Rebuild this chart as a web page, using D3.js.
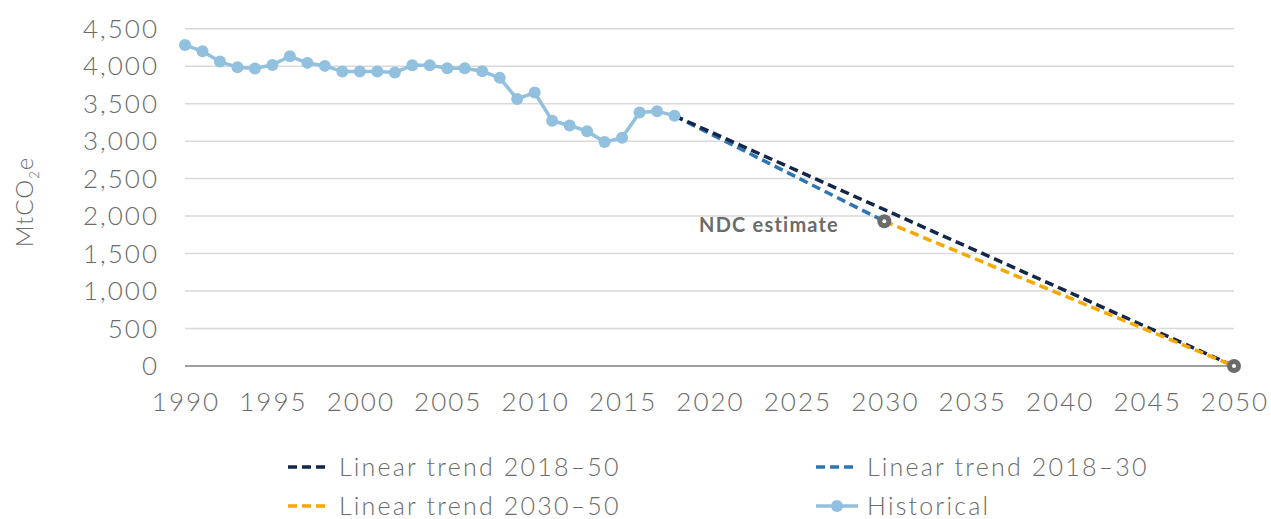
<!DOCTYPE html>
<html>
<head>
<meta charset="utf-8">
<script src="https://cdn.jsdelivr.net/npm/d3@7"></script>
<style>
  body { margin: 0; background: #fff; }
  svg text { font-family: Lato, "Open Sans", sans-serif; font-weight: 300; fill: #6b6b6b; }
</style>
</head>
<body>
<svg id="chart" width="1271" height="519"></svg>
<script>
// Historical emissions, MtCO2e
const years = [1990, 1991, 1992, 1993, 1994, 1995, 1996, 1997, 1998, 1999,
  2000, 2001, 2002, 2003, 2004, 2005, 2006, 2007, 2008, 2009,
  2010, 2011, 2012, 2013, 2014, 2015, 2016, 2017, 2018];
const historical = [4284, 4198, 4061, 3985, 3968, 4017, 4132, 4044, 4004, 3928,
  3928, 3928, 3915, 4012, 4012, 3972, 3972, 3932, 3844, 3562,
  3648, 3272, 3209, 3133, 2987, 3045, 3382, 3400, 3338];

// Trend end points [year, value]
const trend2018_50 = [[2018, 3338], [2050, 0]];
const trend2018_30 = [[2018, 3338], [2030, 1931]];
const trend2030_50 = [[2030, 1931], [2050, 0]];
const ndcPoints = [[2030, 1931], [2050, 0]];

const yTicks = [0, 500, 1000, 1500, 2000, 2500, 3000, 3500, 4000, 4500];
const xTicks = [1990, 1995, 2000, 2005, 2010, 2015, 2020, 2025, 2030, 2035, 2040, 2045, 2050];

const svg = d3.select("#chart");
const x = d3.scaleLinear().domain([1990, 2050]).range([185, 1234]);
const y = d3.scaleLinear().domain([0, 4500]).range([366, 28.7]);

// gridlines
svg.append("g").selectAll("line")
  .data(yTicks.filter(d => d > 0))
  .enter().append("line")
  .attr("x1", x(1990)).attr("x2", x(2050))
  .attr("y1", d => y(d)).attr("y2", d => y(d))
  .attr("stroke", "#d9d9d9").attr("stroke-width", 1.5);

// zero line
svg.append("line")
  .attr("x1", x(1990)).attr("x2", x(2050))
  .attr("y1", y(0)).attr("y2", y(0))
  .attr("stroke", "#7f7f7f").attr("stroke-width", 1.5);

// y tick labels
svg.append("g").selectAll("text")
  .data(yTicks)
  .enter().append("text")
  .attr("x", 159).attr("y", d => y(d))
  .attr("dy", "0.35em")
  .attr("text-anchor", "end")
  .style("font-size", "26px")
  .style("letter-spacing", "2px")
  .text(d => d3.format(",")(d));

// x tick labels
svg.append("g").selectAll("text")
  .data(xTicks)
  .enter().append("text")
  .attr("x", d => x(d) + 1).attr("y", 411)
  .attr("text-anchor", "middle")
  .style("font-size", "26px")
  .style("letter-spacing", "2px")
  .text(d => d);

// y axis title
const yt = svg.append("text")
  .attr("transform", "translate(33,202) rotate(-90)")
  .attr("text-anchor", "middle")
  .style("font-size", "24px")
  .style("letter-spacing", "1px");
yt.append("tspan").text("MtCO");
yt.append("tspan").attr("dy", 6).style("font-size", "13px").text("2");
yt.append("tspan").attr("dy", -6).text("e");

const line = d3.line().x(d => x(d[0])).y(d => y(d[1]));

// trends
const trends = [
  { data: trend2018_30, color: "#2e75b2" },
  { data: trend2018_50, color: "#14264a" },
  { data: trend2030_50, color: "#f5a800" }
];
trends.forEach(t => {
  svg.append("path")
    .attr("d", line(t.data))
    .attr("fill", "none")
    .attr("stroke", t.color)
    .attr("stroke-width", 3.5)
    .attr("stroke-dasharray", "9,5");
});

// historical
const hist = years.map((yr, i) => [yr, historical[i]]);
svg.append("path")
  .attr("d", line(hist))
  .attr("fill", "none")
  .attr("stroke", "#92c0df")
  .attr("stroke-width", 3.5);
svg.append("g").selectAll("circle")
  .data(hist)
  .enter().append("circle")
  .attr("cx", d => x(d[0])).attr("cy", d => y(d[1]))
  .attr("r", 6)
  .attr("fill", "#92c0df");

// NDC markers
const ndc = svg.append("g").selectAll("g")
  .data(ndcPoints)
  .enter().append("g")
  .attr("transform", d => `translate(${x(d[0])},${y(d[1])})`);
ndc.append("circle").attr("r", 7).attr("fill", "#6b6b6b");
ndc.append("circle").attr("r", 2).attr("fill", "#fff");

svg.append("text")
  .attr("x", 839).attr("y", 232)
  .attr("text-anchor", "end")
  .style("font-size", "20px")
  .style("font-weight", 700)
  .style("letter-spacing", "1.2px")
  .style("fill", "#6b6b6b")
  .text("NDC estimate");

// legend
const legend = [
  { label: "Linear trend 2018\u201350", color: "#14264a", type: "dash", x: 288, y: 467 },
  { label: "Linear trend 2018\u201330", color: "#2e75b2", type: "dash", x: 816, y: 467 },
  { label: "Linear trend 2030\u201350", color: "#f5a800", type: "dash", x: 288, y: 506 },
  { label: "Historical", color: "#92c0df", type: "marker", x: 816, y: 506 }
];
legend.forEach(l => {
  const g = svg.append("g");
  g.append("line")
    .attr("x1", l.x).attr("x2", l.x + 42)
    .attr("y1", l.y).attr("y2", l.y)
    .attr("stroke", l.color).attr("stroke-width", 3.5)
    .attr("stroke-dasharray", l.type === "dash" ? "9,5" : null);
  if (l.type === "marker") {
    g.append("circle").attr("cx", l.x + 21).attr("cy", l.y).attr("r", 6).attr("fill", l.color);
  }
  g.append("text")
    .attr("x", l.x + 51).attr("y", l.y)
    .attr("dy", "0.35em")
    .style("font-size", "25px")
    .style("letter-spacing", "2.2px")
    .text(l.label);
});
</script>
</body>
</html>
